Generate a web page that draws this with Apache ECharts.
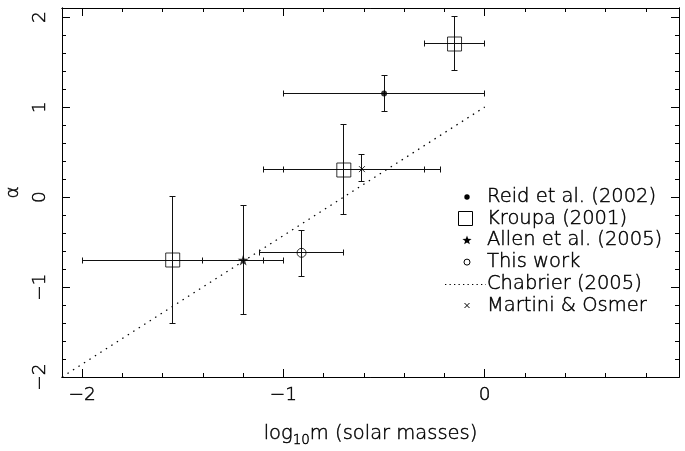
<!DOCTYPE html>
<html><head><meta charset="utf-8">
<script src="https://cdn.jsdelivr.net/npm/echarts@6/dist/echarts.min.js"></script>
<style>html,body{margin:0;padding:0;background:#fff}#c{width:685px;height:451px}</style>
</head><body><div id="c"></div>
<script>
// ---- data ----
const legendNames = ['Reid et al. (2002)', 'Kroupa (2001)', 'Allen et al. (2005)', 'This work', 'Chabrier (2005)', 'Martini & Osmer'];

const reidX = [-0.5], reidY = [1.15], reidXlo = [-1.0], reidXhi = [0.0], reidYlo = [0.95], reidYhi = [1.35];
const kroupaX = [-0.15, -0.7, -1.55], kroupaY = [1.7, 0.3, -0.7];
const kroupaXlo = [-0.3, -1.1, -2.0], kroupaXhi = [0.0, -0.3, -1.1];
const kroupaYlo = [1.4, -0.2, -1.4], kroupaYhi = [2.0, 0.8, 0.0];
const allenX = [-1.2], allenY = [-0.7], allenXlo = [-1.4], allenXhi = [-1.0], allenYlo = [-1.3], allenYhi = [-0.1];
const thisX = [-0.91], thisY = [-0.62], thisXlo = [-1.12], thisXhi = [-0.7], thisYlo = [-0.88], thisYhi = [-0.37];
const martiniX = [-0.61], martiniY = [0.31], martiniXlo = [-1.0], martiniXhi = [-0.22], martiniYlo = [0.17], martiniYhi = [0.47];
const chabrierX = [-2.1, 0.0], chabrierY = [-2.0, 1.0];

const xMajor = [-2, -1, 0];
const xMinor = [-1.8, -1.6, -1.4, -1.2, -0.8, -0.6, -0.4, -0.2, 0.2, 0.4, 0.6, 0.8];
const yMajor = [-2, -1, 0, 1, 2];
const yMinor = [-1.8, -1.6, -1.4, -1.2, -0.8, -0.6, -0.4, -0.2, 0.2, 0.4, 0.6, 0.8, 1.2, 1.4, 1.6, 1.8, 2.0];

// ---- styling ----
const FONT = "'DejaVu Sans ExtraLight', 'DejaVu Sans'";
const FW = 200;
const INK = '#000';
const TB = { textBorderColor: '#000', textBorderWidth: 0.45 };
const XMIN = -2.1, XMAX = 0.965, YMIN = -2.0, YMAX = 2.1;

function fmt(v) { return v < 0 ? '\u2212' + Math.abs(v) : String(v); }

function zip(xs, ys, xl, xh, yl, yh) {
  return xs.map((x, i) => [x, ys[i], xl[i], xh[i], yl[i], yh[i]]);
}
const errData = [].concat(
  zip(reidX, reidY, reidXlo, reidXhi, reidYlo, reidYhi),
  zip(kroupaX, kroupaY, kroupaXlo, kroupaXhi, kroupaYlo, kroupaYhi),
  zip(allenX, allenY, allenXlo, allenXhi, allenYlo, allenYhi),
  zip(thisX, thisY, thisXlo, thisXhi, thisYlo, thisYhi),
  zip(martiniX, martiniY, martiniXlo, martiniXhi, martiniYlo, martiniYhi)
);

function crisp(v) { return Math.round(v - 0.5) + 0.5; }

function errRender(params, api) {
  const x = api.value(0), y = api.value(1);
  const c = api.coord([x, y]);
  const xl = api.coord([api.value(2), y])[0], xh = api.coord([api.value(3), y])[0];
  const yl = api.coord([x, api.value(4)])[1], yh = api.coord([x, api.value(5)])[1];
  const cx = crisp(c[0]), cy = crisp(c[1]);
  const cap = 3;
  const style = { stroke: '#111', lineWidth: 1, fill: null };
  const ch = [];
  const ln = (x1, y1, x2, y2) => ch.push({ type: 'line', shape: { x1, y1, x2, y2 }, style });
  ln(crisp(xl), cy, crisp(xh), cy);
  ln(crisp(xl), cy - cap, crisp(xl), cy + cap);
  ln(crisp(xh), cy - cap, crisp(xh), cy + cap);
  ln(cx, crisp(yl), cx, crisp(yh));
  ln(cx - cap, crisp(yl), cx + cap, crisp(yl));
  ln(cx - cap, crisp(yh), cx + cap, crisp(yh));
  return { type: 'group', children: ch };
}

const STAR = 'path://M50,0 L61.2,34.5 L97.6,34.5 L68.2,55.9 L79.4,90.5 L50,69.1 L20.6,90.5 L31.8,55.9 L2.4,34.5 L38.8,34.5 Z';
const CROSS = 'path://M0,0 L10,10 M10,0 L0,10';

const lblStyle = Object.assign({ fontFamily: FONT, fontWeight: FW, fontSize: 18.5, color: INK }, TB);

function xAx(pos, vals, len, withLabel) {
  return {
    type: 'value', min: XMIN, max: XMAX, position: pos,
    axisLine: { show: true, onZero: false, lineStyle: { color: '#000', width: 1 } },
    axisTick: { show: true, inside: true, length: len, customValues: vals, lineStyle: { color: '#000', width: 1 } },
    axisLabel: withLabel ? Object.assign({ show: true, customValues: vals, formatter: fmt, margin: 9 }, lblStyle) : { show: false },
    splitLine: { show: false }
  };
}
function yAx(pos, vals, len, withLabel) {
  return {
    type: 'value', min: YMIN, max: YMAX, position: pos,
    axisLine: { show: true, onZero: false, lineStyle: { color: '#000', width: 1 } },
    axisTick: { show: true, inside: true, length: len, customValues: vals, lineStyle: { color: '#000', width: 1 } },
    axisLabel: withLabel ? Object.assign({ show: true, customValues: vals, formatter: fmt, rotate: 90, margin: 12 }, lblStyle) : { show: false },
    splitLine: { show: false }
  };
}

const xAxes = [xAx('bottom', xMajor, 8, true), xAx('bottom', xMinor, 4, false), xAx('top', xMajor, 8, false), xAx('top', xMinor, 4, false)];
xAxes[0].name = '{n|log}{s|10}{n|m (solar masses)}';
xAxes[0].nameLocation = 'middle';
xAxes[0].nameGap = 44;
xAxes[0].nameTextStyle = Object.assign({ fontFamily: FONT, fontWeight: FW, color: INK, rich: {
  n: Object.assign({ fontFamily: FONT, fontWeight: FW, fontSize: 19.5, color: INK }, TB),
  s: Object.assign({ fontFamily: FONT, fontWeight: FW, fontSize: 13.5, color: INK, padding: [12, 0, 0, 0] }, TB) } }, TB);

const yAxes = [yAx('left', yMajor, 8, true), yAx('left', yMinor, 4, false), yAx('right', yMajor, 8, false), yAx('right', yMinor, 4, false)];
yAxes[0].name = '\u03b1';
yAxes[0].nameLocation = 'middle';
yAxes[0].nameRotate = 90;
yAxes[0].nameGap = 39;
yAxes[0].nameTextStyle = Object.assign({ fontFamily: FONT, fontWeight: FW, fontSize: 18.5, color: INK }, TB);

// ---- legend drawn as graphic ----
const LX = 467, TX = 487, LY0 = 197, LDY = 21.7;
function starPts(cx, cy, R) {
  const pts = [];
  for (let i = 0; i < 10; i++) {
    const r = i % 2 === 0 ? R : R * 0.42;
    const a = -Math.PI / 2 + i * Math.PI / 5;
    pts.push([cx + r * Math.cos(a), cy + r * Math.sin(a)]);
  }
  return pts;
}
const legendGraphic = [];
legendNames.forEach((name, i) => {
  const y = LY0 + i * LDY;
  legendGraphic.push({ type: 'text', x: TX, y: y, style: { text: name, fontFamily: FONT, fontWeight: FW, fontSize: 19.5, fill: INK,
    stroke: '#000', lineWidth: 0.45, verticalAlign: 'middle', align: 'left' } });
  const st = { stroke: '#000', lineWidth: 1, fill: null };
  if (i === 0) legendGraphic.push({ type: 'circle', shape: { cx: LX, cy: y, r: 2.7 }, style: { fill: '#000' } });
  if (i === 1) legendGraphic.push({ type: 'rect', shape: { x: 458.5, y: Math.round(y) - 7.5, width: 14, height: 14 }, style: st });
  if (i === 2) legendGraphic.push({ type: 'polygon', shape: { points: starPts(LX, y, 4.8) }, style: { fill: '#000' } });
  if (i === 3) legendGraphic.push({ type: 'circle', shape: { cx: LX, cy: y, r: 3 }, style: st });
  if (i === 4) legendGraphic.push({ type: 'line', shape: { x1: 445, y1: Math.round(y) + 0.5, x2: 486, y2: Math.round(y) + 0.5 }, style: { stroke: '#000', lineWidth: 1.2, lineDash: [1.3, 3.2] } });
  if (i === 5) legendGraphic.push({ type: 'group', children: [
    { type: 'line', shape: { x1: LX - 2.5, y1: y - 2.5, x2: LX + 2.5, y2: y + 2.5 }, style: { stroke: '#000', lineWidth: 1 } },
    { type: 'line', shape: { x1: LX + 2.5, y1: y - 2.5, x2: LX - 2.5, y2: y + 2.5 }, style: { stroke: '#000', lineWidth: 1 } }
  ] });
});

function pairs(xs, ys) { return xs.map((x, i) => [x, ys[i]]); }

const option = {
  animation: false,
  backgroundColor: '#fff',
  grid: { left: 62, right: 6, top: 8, bottom: 74, containLabel: false, outerBoundsMode: 'none' },
  xAxis: xAxes,
  yAxis: yAxes,
  graphic: legendGraphic,
  series: [
    { name: 'errors', type: 'custom', renderItem: errRender, data: errData, xAxisIndex: 0, yAxisIndex: 0, z: 2, silent: true },
    { name: legendNames[4], type: 'line', data: pairs(chabrierX, chabrierY), showSymbol: false, symbol: 'none',
      lineStyle: { color: '#000', width: 1.3, type: [1.5, 5] }, z: 1 },
    { name: legendNames[0], type: 'scatter', data: pairs(reidX, reidY), symbol: 'circle', symbolSize: 6, itemStyle: { color: '#000' }, z: 3 },
    { name: legendNames[1], type: 'scatter', data: pairs(kroupaX, kroupaY), symbol: 'rect', symbolSize: 14,
      itemStyle: { color: 'rgba(0,0,0,0)', borderColor: '#000', borderWidth: 1 }, z: 3 },
    { name: legendNames[2], type: 'scatter', data: pairs(allenX, allenY), symbol: STAR, symbolSize: 11, itemStyle: { color: '#000' }, z: 3 },
    { name: legendNames[3], type: 'scatter', data: pairs(thisX, thisY), symbol: 'circle', symbolSize: 9,
      itemStyle: { color: 'rgba(0,0,0,0)', borderColor: '#000', borderWidth: 1 }, z: 3 },
    { name: legendNames[5], type: 'scatter', data: pairs(martiniX, martiniY), symbol: CROSS, symbolSize: 6,
      itemStyle: { color: 'rgba(0,0,0,0)', borderColor: '#000', borderWidth: 1 }, z: 3 }
  ]
};

const chart = echarts.init(document.getElementById('c'), null, { renderer: 'canvas' });
chart.setOption(option);
</script>
</body></html>
